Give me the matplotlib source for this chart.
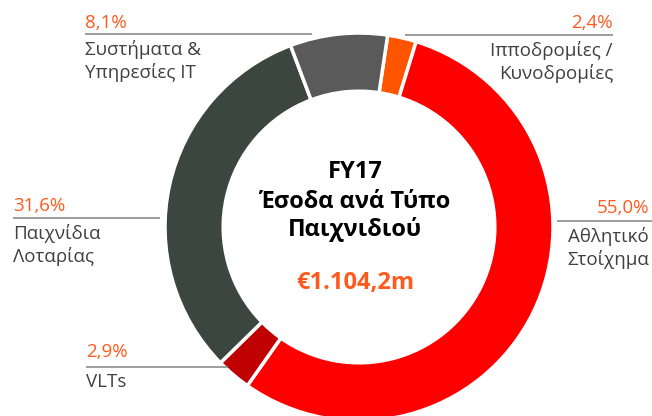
import matplotlib
matplotlib.use("Agg")
import matplotlib.pyplot as plt

# données : répartition des revenus FY17 par type de jeu
labels = ["Ιπποδρομίες /\nΚυνοδρομίες", "Αθλητικό\nΣτοίχημα", "VLTs",
          "Παιχνίδια\nΛοταρίας", "Συστήματα &\nΥπηρεσίες IT"]
shares = [2.4, 55.0, 2.9, 31.6, 8.1]
pct_labels = ["2,4%", "55,0%", "2,9%", "31,6%", "8,1%"]
colors = ["#FF5500", "#FF0000", "#C00000", "#3C4640", "#5A5A5A"]
total_label = "€1.104,2m"
title_lines = ["FY17", "Έσοδα ανά Τύπο", "Παιχνιδιού"]

ORANGE = "#FF5A1E"
TXT = "#404040"
LINE = "#8C8C8C"
plt.rcParams["font.family"] = ["Open Sans", "DejaVu Sans"]

fig = plt.figure(figsize=(6.52, 4.16), dpi=100)
ax = fig.add_axes([0, 0, 1, 1])

cx, cy, R = 359, 227, 194
ax.pie(shares, colors=colors, center=(cx, cy), radius=R,
       startangle=-81.5, counterclock=True,
       wedgeprops=dict(width=R * 0.30, edgecolor="white", linewidth=2.5),
       frame=True)
ax.set_xlim(0, 652)
ax.set_ylim(416, 0)
ax.axis("off")

# positions des étiquettes : (x texte, y pourcentage, y ligne, x0 ligne, x1 ligne, alignement)
label_pos = [
    (613, 23, 35, 405, 613, "right"),
    (649, 208, 221, 557, 652, "right"),
    (86, 352, 367, 86, 228, "left"),
    (13, 206, 218, 13, 160, "left"),
    (85, 23, 34, 85, 312, "left"),
]
for (x, yp, yl, x0, x1, ha), pct, lab in zip(label_pos, pct_labels, labels):
    ax.text(x, yp, pct, color=ORANGE, fontsize=13.5, ha=ha, va="center")
    ax.plot([x0, x1], [yl, yl], color=LINE, lw=1.2, solid_capstyle="butt")
    ax.text(x, yl + 6, lab, color=TXT, fontsize=13.5, ha=ha, va="top",
            linespacing=1.25)

ax.text(cx - 4, 172, title_lines[0], fontsize=17, fontweight="bold",
        ha="center", va="center", color="black")
ax.text(cx - 4, 202, title_lines[1], fontsize=17, fontweight="bold",
        ha="center", va="center", color="black")
ax.text(cx - 4, 229, title_lines[2], fontsize=17, fontweight="bold",
        ha="center", va="center", color="black")
ax.text(cx - 4, 283, total_label, fontsize=17, fontweight="bold",
        ha="center", va="center", color=ORANGE)

fig.savefig("out.png", dpi=100)
